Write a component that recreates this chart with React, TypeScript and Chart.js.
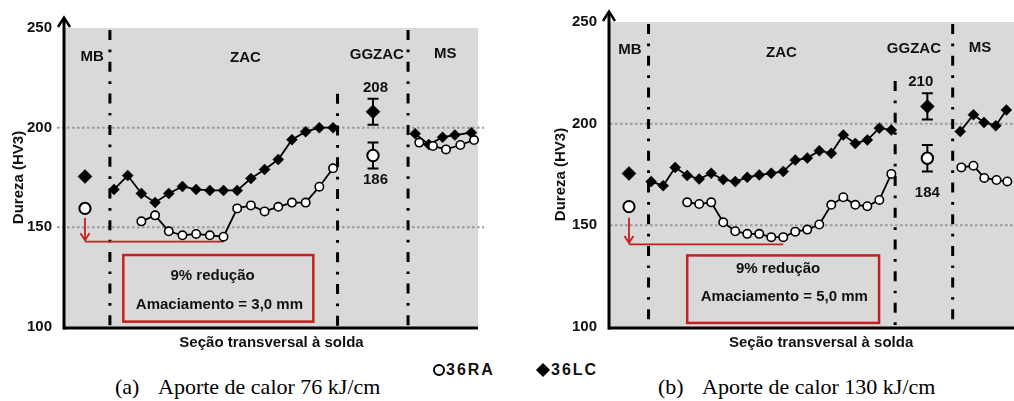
import React, { useEffect, useRef } from 'react';
import { Chart, registerables } from 'chart.js';
Chart.register(...registerables);

// ---------------- shared ----------------
const yTicks = [100, 150, 200, 250];
const refLines = [150, 200];
const zoneNames = ['MB', 'ZAC', 'GGZAC', 'MS'];
const xTitle = 'Seção transversal à solda';
const yTitle = 'Dureza (HV3)';
const legendLabels = ['36RA', '36LC'];

// ---------------- (a) 76 kJ/cm ----------------
const captionA = ['(a)', 'Aporte de calor 76 kJ/cm'];
const zoneLabelXA = [-1.6, 9.6, 19.2, 24.2];
const zoneLabelYA = [235.5, 235, 236.5, 237];
const boundaryXA = [-0.3, 16.33, 21.48];
const boundaryTopA = [250, 218, 250];

const mbPosA = [-2.12];
const mbLcA = [175.5];
const mbRaA = [159.5];

const zacPosLcA = [0, 1, 2, 3, 4, 5, 6, 7, 8, 9, 10, 11, 12, 13, 14, 15, 16];
const zacLcA = [169, 176, 167, 162.5, 167, 170.5, 169, 168.5, 168.5, 168.5, 174.5, 179, 184, 194, 198, 200, 200];
const zacPosRaA = [2, 3, 4, 5, 6, 7, 8, 9, 10, 11, 12, 13, 14, 15, 16];
const zacRaA = [153, 156, 148, 146, 146.7, 146, 145.3, 159.5, 161, 158, 160.3, 162.4, 162.4, 170.4, 179.6];

const ggPosA = [18.92];
const ggLcA = [208];
const ggRaA = [186];
const ggErrLcA = [6.5];
const ggErrRaA = [6.5];
const ggLabelA = ['208', '186'];
const ggLabelXA = [19.1, 19.1];
const ggLabelYA = [220, 173.7];

const msPosLcA = [22.0, 23.0, 24.0, 24.9, 26.1];
const msLcA = [197, 191.5, 195.2, 196.3, 197.5];
const msPosRaA = [22.3, 23.3, 24.25, 25.3, 26.3];
const msRaA = [192.5, 190.8, 189.1, 191.3, 193.8];

const redArrowA = [-2.12, 154.7, 142.8, 8]; // x, start value, level, end x
const redBoxA = [0.68, 14.56, 136.1, 102.7]; // x0, x1, yTop, yBottom
const boxTextA = ['9% redução', 'Amaciamento = 3,0 mm'];
const boxTextXA = [7.2, 7.7];
const boxTextYA = [125.6, 111];

// ---------------- (b) 130 kJ/cm ----------------
const captionB = ['(b)', 'Aporte de calor 130 kJ/cm'];
const zoneLabelXB = [-1.78, 10.85, 21.88, 27.39];
const zoneLabelYB = [236.3, 234.9, 236.9, 237.4];
const boundaryXB = [-0.22, 20.32, 25.11];
const boundaryTopB = [250, 222, 250];

const mbPosB = [-1.85];
const mbLcB = [175.5];
const mbRaB = [159.2];

const zacPosLcB = [0, 1, 2, 3, 4, 5, 6, 7, 8, 9, 10, 11, 12, 13, 14, 15, 16, 17, 18, 19, 20];
const zacLcB = [171.5, 169.5, 178.5, 174.5, 172.8, 175.6, 172.5, 171.5, 173.6, 174.8, 175.6, 176.5, 182.1, 183.1, 186.7, 185.4, 194.4, 190.3, 192, 197.8, 196.9];
const zacPosRaB = [3, 4, 5, 6, 7, 8, 9, 10, 11, 12, 13, 14, 15, 16, 17, 18, 19, 20];
const zacRaB = [161.3, 160.5, 161.3, 151.5, 147.1, 145.8, 145.8, 144.2, 144.2, 146.9, 147.9, 150.4, 160.1, 163.8, 160.1, 159.4, 162.5, 175.3];

const ggPosB = [23.0];
const ggLcB = [208.5];
const ggRaB = [183];
const ggErrLcB = [6.5];
const ggErrRaB = [6.5];
const ggLabelB = ['210', '184'];
const ggLabelXB = [22.45, 23.0];
const ggLabelYB = [220.7, 166.2];

const msPosLcB = [25.74, 26.84, 27.72, 28.7, 29.58];
const msLcB = [196.2, 204.4, 200.6, 199, 206.7];
const msPosRaB = [25.83, 26.84, 27.74, 28.76, 29.66];
const msRaB = [178.5, 179.3, 173.3, 172.3, 171.6];

const redArrowB = [-1.85, 153.7, 140.6, 11];
const redBoxB = [3.0, 18.98, 135.2, 102];
const boxTextB = ['9% redução', 'Amaciamento = 5,0 mm'];
const boxTextXB = [10.57, 11.09];
const boxTextYB = [128.6, 114.7];

// ---------------- styling ----------------
const SANS = '"Liberation Sans", Arial, sans-serif';
const SERIF = '"Liberation Serif", "Times New Roman", serif';
const TEXT = '#111';
const GRAY = '#d9d9d9';
const RED = '#c81e1e';

function pts(xs: number[], ys: number[]) {
  return xs.map((x, i) => ({ x, y: ys[i] }));
}

function raSet(data: any[], r: number, bw: number, line: boolean) {
  return {
    data,
    showLine: line,
    borderColor: '#000',
    borderWidth: 1.8,
    pointStyle: 'circle',
    pointRadius: r,
    pointBackgroundColor: '#fff',
    pointBorderColor: '#000',
    pointBorderWidth: bw,
    clip: false as any,
  };
}

function lcSet(data: any[], r: number, line: boolean) {
  return {
    data,
    showLine: line,
    borderColor: '#000',
    borderWidth: 1.8,
    pointStyle: 'rectRot',
    pointRadius: r,
    pointBackgroundColor: '#000',
    pointBorderColor: '#000',
    pointBorderWidth: 0.5,
    clip: false as any,
  };
}

type Panel = {
  left: number; w: number; h: number;
  padTop: number; padRight: number; yAxisW: number; yTitlePad: number;
  xMin: number; xMax: number; refExtLeft: number; refExtRight: number;
  zoneX: number[]; zoneY: number[]; boundaryX: number[]; boundaryTop: number[];
  mbPos: number[]; mbLc: number[]; mbRa: number[];
  zacPosLc: number[]; zacLc: number[]; zacPosRa: number[]; zacRa: number[];
  ggPos: number[]; ggLc: number[]; ggRa: number[]; ggErrLc: number[]; ggErrRa: number[];
  ggLabel: string[]; ggLabelX: number[]; ggLabelY: number[];
  msPosLc: number[]; msLc: number[]; msPosRa: number[]; msRa: number[];
  redArrow: number[]; redBox: number[]; boxText: string[]; boxTextX: number[]; boxTextY: number[];
};

const panelA: Panel = {
  left: 0, w: 500, h: 360, padTop: 28, padRight: 22, yAxisW: 65, yTitlePad: 9.5,
  xMin: -3.58, xMax: 26.59, refExtLeft: 8, refExtRight: 6,
  zoneX: zoneLabelXA, zoneY: zoneLabelYA, boundaryX: boundaryXA, boundaryTop: boundaryTopA,
  mbPos: mbPosA, mbLc: mbLcA, mbRa: mbRaA,
  zacPosLc: zacPosLcA, zacLc: zacLcA, zacPosRa: zacPosRaA, zacRa: zacRaA,
  ggPos: ggPosA, ggLc: ggLcA, ggRa: ggRaA, ggErrLc: ggErrLcA, ggErrRa: ggErrRaA,
  ggLabel: ggLabelA, ggLabelX: ggLabelXA, ggLabelY: ggLabelYA,
  msPosLc: msPosLcA, msLc: msLcA, msPosRa: msPosRaA, msRa: msRaA,
  redArrow: redArrowA, redBox: redBoxA, boxText: boxTextA, boxTextX: boxTextXA, boxTextY: boxTextYA,
};

const panelB: Panel = {
  left: 500, w: 540, h: 360, padTop: 21, padRight: 2, yAxisW: 110, yTitlePad: 52,
  xMin: -3.43, xMax: 31.74, refExtLeft: 0, refExtRight: 0,
  zoneX: zoneLabelXB, zoneY: zoneLabelYB, boundaryX: boundaryXB, boundaryTop: boundaryTopB,
  mbPos: mbPosB, mbLc: mbLcB, mbRa: mbRaB,
  zacPosLc: zacPosLcB, zacLc: zacLcB, zacPosRa: zacPosRaB, zacRa: zacRaB,
  ggPos: ggPosB, ggLc: ggLcB, ggRa: ggRaB, ggErrLc: ggErrLcB, ggErrRa: ggErrRaB,
  ggLabel: ggLabelB, ggLabelX: ggLabelXB, ggLabelY: ggLabelYB,
  msPosLc: msPosLcB, msLc: msLcB, msPosRa: msPosRaB, msRa: msRaB,
  redArrow: redArrowB, redBox: redBoxB, boxText: boxTextB, boxTextX: boxTextXB, boxTextY: boxTextYB,
};

function decorPlugin(p: Panel) {
  return {
    id: 'decor',
    beforeDraw(chart: any) {
      const { ctx, chartArea: ca, scales } = chart;
      const x = scales.x, y = scales.y;
      ctx.save();
      ctx.fillStyle = GRAY;
      ctx.fillRect(ca.left, ca.top, ca.right - ca.left, ca.bottom - ca.top);

      // dotted reference lines
      ctx.strokeStyle = '#999';
      ctx.lineWidth = 2;
      ctx.setLineDash([2.6, 2.4]);
      refLines.forEach((v) => {
        const py = y.getPixelForValue(v);
        ctx.beginPath();
        ctx.moveTo(ca.left - p.refExtLeft, py);
        ctx.lineTo(ca.right + p.refExtRight, py);
        ctx.stroke();
      });

      // zone boundaries (dash-dot)
      ctx.strokeStyle = '#000';
      ctx.lineWidth = 3;
      ctx.setLineDash([10, 9.5, 2.7, 9.5]);
      p.boundaryX.forEach((bx, i) => {
        const px = x.getPixelForValue(bx);
        ctx.beginPath();
        ctx.moveTo(px, y.getPixelForValue(p.boundaryTop[i]) + 2);
        ctx.lineTo(px, ca.bottom);
        ctx.stroke();
      });
      ctx.setLineDash([]);

      // texts
      ctx.fillStyle = TEXT;
      ctx.font = `bold 15px ${SANS}`;
      ctx.textAlign = 'center';
      ctx.textBaseline = 'middle';
      zoneNames.forEach((t, i) => ctx.fillText(t, x.getPixelForValue(p.zoneX[i]), y.getPixelForValue(p.zoneY[i])));
      p.ggLabel.forEach((t, i) => ctx.fillText(t, x.getPixelForValue(p.ggLabelX[i]), y.getPixelForValue(p.ggLabelY[i])));
      p.boxText.forEach((t, i) => ctx.fillText(t, x.getPixelForValue(p.boxTextX[i]), y.getPixelForValue(p.boxTextY[i])));

      // red box
      const [bx0, bx1, by0, by1] = p.redBox;
      const l = x.getPixelForValue(bx0), r = x.getPixelForValue(bx1);
      const t = y.getPixelForValue(by0), b = y.getPixelForValue(by1);
      ctx.strokeStyle = RED;
      ctx.lineWidth = 2.5;
      ctx.strokeRect(l, t, r - l, b - t);
      ctx.restore();
    },
    beforeDatasetsDraw(chart: any) {
      const { ctx, chartArea: ca, scales } = chart;
      const x = scales.x, y = scales.y;
      ctx.save();
      // axes
      ctx.strokeStyle = '#000';
      ctx.lineWidth = 3;
      ctx.lineCap = 'butt';
      ctx.beginPath();
      ctx.moveTo(ca.left - 1.5, ca.bottom + 1);
      ctx.lineTo(ca.right, ca.bottom + 1);
      ctx.stroke();
      ctx.beginPath();
      ctx.moveTo(ca.left - 1, ca.bottom + 2.5);
      ctx.lineTo(ca.left - 1, ca.top - 10);
      ctx.stroke();
      ctx.lineWidth = 2.5;
      ctx.lineJoin = 'miter';
      ctx.beginPath();
      ctx.moveTo(ca.left - 7, ca.top - 1);
      ctx.lineTo(ca.left - 1, ca.top - 10.5);
      ctx.lineTo(ca.left + 5, ca.top - 1);
      ctx.stroke();

      // error bars
      ctx.lineWidth = 2;
      const bars = [
        [p.ggPos, p.ggLc, p.ggErrLc],
        [p.ggPos, p.ggRa, p.ggErrRa],
      ] as number[][][];
      bars.forEach(([xs, vs, es]) => {
        xs.forEach((xv, i) => {
          const px = x.getPixelForValue(xv);
          const top = y.getPixelForValue(vs[i] + es[i]);
          const bot = y.getPixelForValue(vs[i] - es[i]);
          ctx.beginPath();
          ctx.moveTo(px, top); ctx.lineTo(px, bot);
          ctx.moveTo(px - 5.5, top); ctx.lineTo(px + 5.5, top);
          ctx.moveTo(px - 5.5, bot); ctx.lineTo(px + 5.5, bot);
          ctx.stroke();
        });
      });

      // red arrow
      const [ax, av0, alevel, aEnd] = p.redArrow;
      const px = x.getPixelForValue(ax);
      const py0 = y.getPixelForValue(av0);
      const pyl = y.getPixelForValue(alevel);
      ctx.strokeStyle = RED;
      ctx.lineWidth = 1.8;
      ctx.beginPath();
      ctx.moveTo(px, py0);
      ctx.lineTo(px, pyl - 1);
      ctx.stroke();
      ctx.beginPath();
      ctx.moveTo(px - 4.5, pyl - 8.5);
      ctx.lineTo(px, pyl - 1.5);
      ctx.lineTo(px + 4.5, pyl - 8.5);
      ctx.stroke();
      ctx.beginPath();
      ctx.moveTo(px, pyl);
      ctx.lineTo(x.getPixelForValue(aEnd), pyl);
      ctx.stroke();
      ctx.restore();
    },
  };
}

function buildConfig(p: Panel): any {
  const datasets = [
    raSet(pts(p.mbPos, p.mbRa), 5.6, 2, false),
    raSet(pts(p.zacPosRa, p.zacRa), 4.2, 1.6, true),
    raSet(pts(p.ggPos, p.ggRa), 5.7, 2, false),
    raSet(pts(p.msPosRa, p.msRa), 4.2, 1.6, true),
    lcSet(pts(p.mbPos, p.mbLc), 7, false),
    lcSet(pts(p.zacPosLc, p.zacLc), 5.5, true),
    lcSet(pts(p.ggPos, p.ggLc), 7, false),
    lcSet(pts(p.msPosLc, p.msLc), 5.5, true),
  ];
  return {
    type: 'scatter',
    data: { datasets },
    plugins: [decorPlugin(p)],
    options: {
      responsive: false,
      animation: false,
      events: [],
      layout: { padding: { left: 0, top: p.padTop, right: p.padRight, bottom: 0 } },
      plugins: { legend: { display: false }, tooltip: { enabled: false } },
      scales: {
        x: {
          type: 'linear',
          min: p.xMin,
          max: p.xMax,
          ticks: { display: false },
          grid: { display: false, drawTicks: false },
          border: { display: false },
          title: {
            display: true,
            text: xTitle,
            color: TEXT,
            font: { family: SANS, size: 15, weight: 'bold' },
            padding: { top: 0, bottom: 8 },
          },
          afterFit: (s: any) => { s.height = 33; },
        },
        y: {
          type: 'linear',
          min: yTicks[0],
          max: yTicks[yTicks.length - 1],
          afterBuildTicks: (s: any) => { s.ticks = yTicks.map((v) => ({ value: v })); },
          ticks: { color: TEXT, padding: 13, font: { family: SANS, size: 15, weight: 'bold' } },
          grid: { display: false, drawTicks: false },
          border: { display: false },
          title: {
            display: true,
            text: yTitle,
            color: TEXT,
            font: { family: SANS, size: 15, weight: 'bold' },
            padding: { top: p.yTitlePad, bottom: 0 },
          },
          afterFit: (s: any) => { s.width = p.yAxisW; },
        },
      },
    },
  };
}

function PanelChart({ p }: { p: Panel }) {
  const ref = useRef<HTMLCanvasElement>(null);
  useEffect(() => {
    const chart = new Chart(ref.current as HTMLCanvasElement, buildConfig(p));
    return () => chart.destroy();
  }, [p]);
  return (
    <canvas
      ref={ref}
      width={p.w}
      height={p.h}
      style={{ position: 'absolute', left: p.left, top: 0, width: p.w, height: p.h }}
    />
  );
}

const captionStyle: React.CSSProperties = {
  position: 'absolute', top: 374, height: 26, lineHeight: '26px',
  fontFamily: SERIF, fontSize: 22, color: '#000', whiteSpace: 'nowrap',
};
const legendText: React.CSSProperties = {
  position: 'absolute', top: 360, height: 20, lineHeight: '20px',
  fontFamily: SANS, fontSize: 16, fontWeight: 'bold', letterSpacing: 2, color: TEXT,
};

export default function App() {
  return (
    <div style={{ position: 'absolute', left: 0, top: 0, width: 1014, height: 401, overflow: 'hidden', background: '#fff' }}>
      <PanelChart p={panelA} />
      <PanelChart p={panelB} />
      {/* legend */}
      <div style={{ position: 'absolute', left: 433, top: 364, width: 12, height: 12, boxSizing: 'border-box', border: '2.5px solid #000', borderRadius: '50%', background: '#fff' }} />
      <div style={{ ...legendText, left: 446 }}>{legendLabels[0]}</div>
      <div style={{ position: 'absolute', left: 538, top: 365, width: 10, height: 10, background: '#000', transform: 'rotate(45deg)' }} />
      <div style={{ ...legendText, left: 551 }}>{legendLabels[1]}</div>
      {/* captions */}
      <div style={{ ...captionStyle, left: 115 }}>{captionA[0]}</div>
      <div style={{ ...captionStyle, left: 158 }}>{captionA[1]}</div>
      <div style={{ ...captionStyle, left: 658 }}>{captionB[0]}</div>
      <div style={{ ...captionStyle, left: 702 }}>{captionB[1]}</div>
    </div>
  );
}
